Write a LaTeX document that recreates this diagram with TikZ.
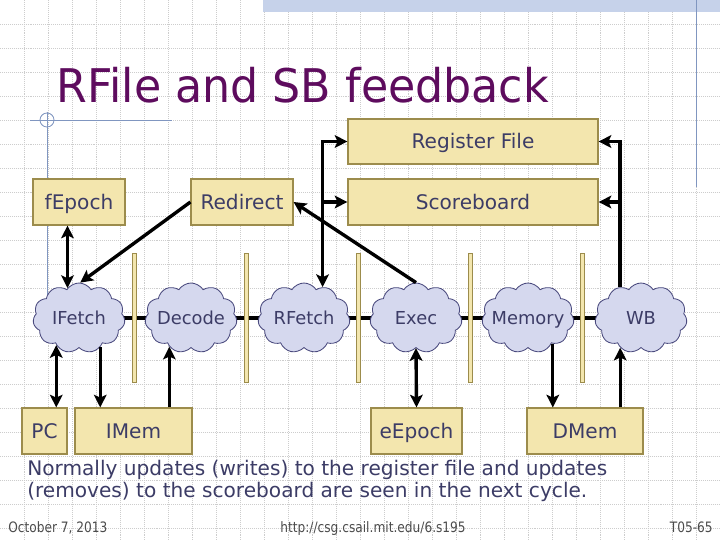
\documentclass[tikz,border=0pt]{standalone}
\usepackage{fontspec}
\setmainfont{DejaVu Sans}
\newfontfamily\titlefont[FakeStretch=0.955]{DejaVu Sans}
\newfontfamily\footfont[FakeStretch=0.85]{DejaVu Sans}
\usetikzlibrary{shapes.symbols, arrows.meta, calc}

\definecolor{boxfill}{HTML}{F3E6AE}
\definecolor{boxline}{HTML}{9C8C4C}
\definecolor{cloudfill}{HTML}{D5D8EE}
\definecolor{cloudline}{HTML}{4A4A7E}
\definecolor{labeltext}{HTML}{3C3C66}
\definecolor{titlepurple}{HTML}{5E0C5E}
\definecolor{gridgray}{HTML}{CDCDCD}
\definecolor{bandblue}{HTML}{C6D2EA}
\definecolor{rulesblue}{HTML}{8096C0}

\tikzset{
  unitbox/.style={draw=boxline, fill=boxfill, line width=0.8pt, text=labeltext,
    font=\fontsize{14.3}{16}\selectfont, inner sep=0pt, text height=13.4pt, text depth=3pt},
  stage/.style={cloud, cloud puffs=11, cloud puff arc=115, aspect=1.3,
    draw=cloudline, fill=cloudfill, line width=0.6pt, text=labeltext,
    font=\fontsize{12.7}{15}\selectfont, minimum width=2.3cm, minimum height=1.75cm,
    inner sep=0pt, text height=12.3pt, text depth=3pt},
  latch/.style={draw=boxline, fill=boxfill, line width=0.6pt, minimum width=0.1cm,
    minimum height=3.22cm, inner sep=0pt},
  wire/.style={line width=2.4pt, -{Stealth[length=9pt, width=9pt, inset=2pt]}},
  twowire/.style={line width=2.4pt, {Stealth[length=9pt, width=9pt, inset=2pt]}-{Stealth[length=9pt, width=9pt, inset=2pt]}},
  pipe/.style={line width=2.4pt},
  footer/.style={text=black!70, font=\footfont\fontsize{10.2}{12}\selectfont, inner sep=0pt}
}

\begin{document}
\begin{tikzpicture}[x=0.025cm, y=-0.025cm]
\useasboundingbox (0,0) rectangle (720,540);
\fill[white] (0,0) rectangle (720,540);

% background grid
\foreach \gx in {24,48,...,720}
  \draw[gridgray, densely dotted, line width=0.4pt] (\gx,0) -- (\gx,540);
\foreach \gy in {24,48,...,540}
  \draw[gridgray, densely dotted, line width=0.4pt] (0,\gy) -- (720,\gy);

% slide decoration
\fill[bandblue] (263,0) rectangle (720,12);
\draw[rulesblue, line width=0.6pt] (696,0) -- (696,187);
\draw[rulesblue, line width=0.6pt] (30,120) -- (172,120);
\draw[rulesblue, line width=0.6pt] (47,120) circle (7);
\draw[rulesblue, line width=0.6pt] (47,112) -- (47,295);

\node[anchor=base west, text=titlepurple, font=\titlefont\fontsize{33}{36}\selectfont, inner sep=0pt]
  (title) at (56,102) {RFile and SB feedback};

% state and memories
\node[unitbox, minimum width=6.25cm, minimum height=1.125cm] (RFile) at (473,141.5) {Register File};
\node[unitbox, minimum width=6.25cm, minimum height=1.15cm] (SB) at (473,202) {Scoreboard};
\node[unitbox, minimum width=2.3cm, minimum height=1.15cm] (fEpoch) at (79,202) {fEpoch};
\node[unitbox, minimum width=2.55cm, minimum height=1.15cm] (Redirect) at (242,202) {Redirect};
\node[unitbox, minimum width=1.125cm, minimum height=1.15cm] (PC) at (44.5,431) {PC};
\node[unitbox, minimum width=2.925cm, minimum height=1.15cm] (IMem) at (133.5,431) {IMem};
\node[unitbox, minimum width=2.275cm, minimum height=1.15cm] (eEpoch) at (416.5,431) {eEpoch};
\node[unitbox, minimum width=2.9cm, minimum height=1.15cm] (DMem) at (585,431) {DMem};

% pipeline
\draw[pipe] (79,318) -- (641,318);
\foreach \lx [count=\li] in {134,246,358,470,582}
  \node[latch] (latch\li) at (\lx,317.5) {};

\node[stage] (IFetch) at (79,318) {\makebox[0pt]{IFetch}};
\node[stage] (Decode) at (191,318) {\makebox[0pt]{Decode}};
\node[stage] (RFetch) at (304,318) {\makebox[0pt]{RFetch}};
\node[stage] (Exec) at (416,318) {\makebox[0pt]{Exec}};
\node[stage] (Memory) at (528,318) {\makebox[0pt]{Memory}};
\node[stage] (WB) at (641,318) {\makebox[0pt]{WB}};

% connections
\draw[twowire] (fEpoch.south -| IFetch.111) -- (IFetch.111);
\draw[wire] (Redirect.west) -- (IFetch.88);
\draw[wire] (Exec.north) -- (Redirect.east);
\draw[twowire] (RFile.west) -| (RFetch.59);
\draw[wire] (SB.west -| RFetch.59) -- (SB.west);
\draw[wire] (WB.124) |- (RFile.east);
\draw[wire] (SB.east -| WB.124) -- (SB.east);

\draw[twowire] (PC.north -| IFetch.230) -- (IFetch.230);
\draw[wire] (IFetch.306) -- (IFetch.306 |- IMem.north);
\draw[wire] (Decode.233 |- IMem.north) -- (Decode.233);
\draw[twowire] (eEpoch.north) -- (Exec.south);
\draw[wire] (Memory.314) -- (Memory.314 |- DMem.north);
\draw[wire] (WB.235 |- DMem.north) -- (WB.235);

% note and footer
\node[anchor=base west, text=labeltext, inner sep=0pt, font=\fontsize{14.3}{16}\selectfont]
  (note1) at (27,475) {Normally updates (writes) to the register file and updates};
\node[anchor=base west, text=labeltext, inner sep=0pt, font=\fontsize{14.3}{16}\selectfont]
  (note2) at (27,497) {(removes) to the scoreboard are seen in the next cycle.};
\node[footer, anchor=base west] (date) at (8,532) {October 7, 2013};
\node[footer, anchor=base] (url) at (373,532) {http://csg.csail.mit.edu/6.s195};
\node[footer, anchor=base east] (slide) at (713,532) {T05-65};
\end{tikzpicture}
\end{document}
